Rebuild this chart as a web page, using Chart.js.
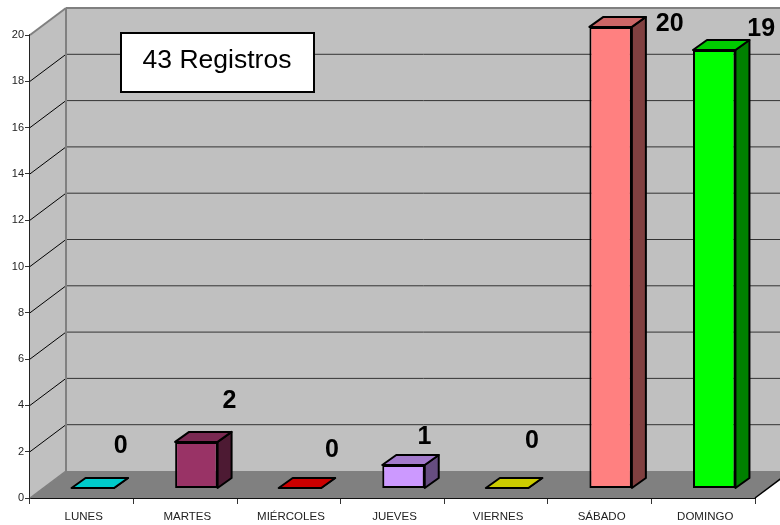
<!DOCTYPE html>
<html lang="es">
<head>
<meta charset="utf-8">
<title>Registros por día</title>
<script src="https://cdn.jsdelivr.net/npm/chart.js@4"></script>
<style>
    html, body { margin: 0; padding: 0; background: #fff; }
    canvas { display: block; }
</style>
</head>
<body>
<canvas id="registros-chart" width="780" height="525"></canvas>
<script>
const days = ['LUNES', 'MARTES', 'MIÉRCOLES', 'JUEVES', 'VIERNES', 'SÁBADO', 'DOMINGO'];
const records = [0, 2, 0, 1, 0, 20, 19];
const barColors = ['#00ffff', '#993366', '#ff0000', '#cc99ff', '#ffff00', '#ff8080', '#00ff00'];
const summaryText = '43 Registros';

// value labels float next to each bar, offset from the centre of its top edge
const labelOffsets = [[28, -42], [33, -41], [32, -38], [21, -28], [25, -47], [59, -3], [47, -21]];

// depth of the wall box and of each bar, in pixels
const WALL_DX = 36, WALL_DY = -27;
const BAR_DX = 14, BAR_DY = -10;
const BAR_SHIFT_X = 11;

function shade(hex, factor) {
    const n = parseInt(hex.slice(1), 16);
    const r = Math.round((n >> 16 & 255) * factor);
    const g = Math.round((n >> 8 & 255) * factor);
    const b = Math.round((n & 255) * factor);
    return `rgb(${r}, ${g}, ${b})`;
}

function polygon(ctx, points, fill, stroke, lineWidth) {
    ctx.beginPath();
    points.forEach((p, i) => i ? ctx.lineTo(p[0], p[1]) : ctx.moveTo(p[0], p[1]));
    ctx.closePath();
    if (fill) {
        ctx.fillStyle = fill;
        ctx.fill();
    }
    if (stroke) {
        ctx.strokeStyle = stroke;
        ctx.lineWidth = lineWidth;
        ctx.lineJoin = 'round';
        ctx.stroke();
    }
}

function line(ctx, x1, y1, x2, y2, color, width) {
    ctx.beginPath();
    ctx.moveTo(x1, y1);
    ctx.lineTo(x2, y2);
    ctx.strokeStyle = color;
    ctx.lineWidth = width;
    ctx.stroke();
}

// side wall, back wall, floor and their gridlines
const wallsPlugin = {
    id: 'walls',
    beforeDatasetsDraw(chart) {
        const { ctx, scales: { y }, chartArea: { left, right, top, bottom } } = chart;
        const backX = left + WALL_DX;
        const backTop = top + WALL_DY;
        const backBottom = bottom + WALL_DY;
        const farRight = chart.width + 20;

        ctx.save();
        polygon(ctx, [[backX, backTop], [farRight, backTop], [farRight, backBottom], [backX, backBottom]], '#c0c0c0');
        polygon(ctx, [[left, top], [backX, backTop], [backX, backBottom], [left, bottom]], '#c0c0c0');

        y.ticks.forEach(tick => {
            if (tick.value === y.min || tick.value === y.max) return;
            const py = y.getPixelForValue(tick.value);
            line(ctx, left, py, backX, py + WALL_DY, '#000', 1);
            line(ctx, backX, py + WALL_DY, farRight, py + WALL_DY, '#333', 1);
        });

        polygon(ctx, [[left, bottom], [backX, backBottom], [right + WALL_DX, backBottom], [right, bottom]], '#808080');
        line(ctx, right, bottom, right + WALL_DX, backBottom, '#000', 1.5);

        line(ctx, left, top, backX, backTop, '#808080', 2);
        line(ctx, backX, backTop, farRight, backTop, '#808080', 2);
        line(ctx, backX, backTop, backX, backBottom, '#808080', 2);
        line(ctx, left, bottom, backX, backBottom, '#808080', 1.5);
        ctx.restore();
    }
};

// moves the bars off the front edge and adds their top and side faces
const barDepthPlugin = {
    id: 'barDepth',
    beforeDatasetDraw(chart) {
        const { ctx } = chart;
        const meta = chart.getDatasetMeta(0);
        ctx.save();
        ctx.translate(BAR_SHIFT_X, 0);
        meta.data.forEach((bar, i) => {
            const l = bar.x - bar.width / 2, r = bar.x + bar.width / 2;
            const t = bar.y, b = bar.base;
            const color = barColors[i];
            polygon(ctx, [[r, t], [r + BAR_DX, t + BAR_DY], [r + BAR_DX, b + BAR_DY], [r, b]], shade(color, 0.5), '#000', 2);
            polygon(ctx, [[l, t], [l + BAR_DX, t + BAR_DY], [r + BAR_DX, t + BAR_DY], [r, t]], shade(color, 0.8), '#000', 2);
        });
    },
    afterDatasetDraw(chart) {
        chart.ctx.restore();
    }
};

// value labels and the summary box
const annotationsPlugin = {
    id: 'annotations',
    afterDraw(chart) {
        const { ctx } = chart;
        const meta = chart.getDatasetMeta(0);
        ctx.save();
        ctx.textAlign = 'center';
        ctx.textBaseline = 'middle';

        ctx.font = 'bold 25px "Liberation Sans", Arial, sans-serif';
        ctx.fillStyle = '#000';
        meta.data.forEach((bar, i) => {
            ctx.fillText(String(records[i]),
                bar.x + BAR_SHIFT_X + labelOffsets[i][0],
                bar.y + labelOffsets[i][1]);
        });

        ctx.fillStyle = '#fff';
        ctx.fillRect(121, 33, 193, 59);
        ctx.strokeStyle = '#000';
        ctx.lineWidth = 2;
        ctx.strokeRect(121, 33, 193, 59);
        ctx.fillStyle = '#000';
        ctx.font = '26.5px "Liberation Sans", Arial, sans-serif';
        ctx.fillText(summaryText, 217, 61);
        ctx.restore();
    }
};

new Chart(document.getElementById('registros-chart').getContext('2d'), {
    type: 'bar',
    data: {
        labels: days,
        datasets: [{
            data: records,
            yAxisID: 'barY',
            backgroundColor: barColors,
            borderColor: '#000',
            borderWidth: 2,
            borderSkipped: false,
            barPercentage: 0.41,
            categoryPercentage: 1,
            clip: false
        }]
    },
    plugins: [wallsPlugin, barDepthPlugin, annotationsPlugin],
    options: {
        responsive: false,
        animation: false,
        layout: { padding: { top: 35, right: 25, left: 0, bottom: 0 } },
        plugins: {
            legend: { display: false },
            title: { display: false },
            tooltip: { enabled: false }
        },
        scales: {
            x: {
                afterFit(scale) { scale.height = 27; },
                border: { color: '#111', width: 2 },
                grid: { drawOnChartArea: false, color: '#333', tickLength: 6 },
                ticks: {
                    color: '#222',
                    padding: 6,
                    labelOffset: 2,
                    maxRotation: 0,
                    autoSkip: false,
                    font: { family: '"Liberation Sans", Arial, sans-serif', size: 11.5 }
                }
            },
            y: {
                min: 0,
                max: 20,
                afterFit(scale) { scale.width = 30; },
                border: { color: '#222', width: 2 },
                grid: { drawOnChartArea: false, color: '#333', tickLength: 5 },
                ticks: {
                    stepSize: 2,
                    color: '#222',
                    padding: 1,
                    font: { family: '"Liberation Sans", Arial, sans-serif', size: 11 }
                }
            },
            // bars stand on the middle of the floor, above the front edge
            barY: {
                display: false,
                min: -0.434,
                max: 19.65
            }
        }
    }
});
</script>
</body>
</html>
